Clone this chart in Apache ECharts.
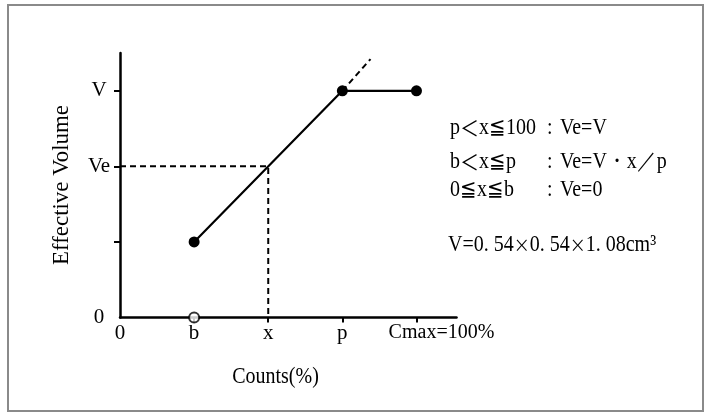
<!DOCTYPE html>
<html>
<head>
<meta charset="utf-8">
<script src="https://cdn.jsdelivr.net/npm/echarts@6/dist/echarts.min.js"></script>
<style>html,body{margin:0;padding:0;background:#fff}#c{width:707px;height:414px}</style>
</head>
<body>
<div id="c"></div>
<script>
// ---- data ----
const xTickValues = [0, 1, 2, 3, 4];
const xTickLabels = ['0', 'b', 'x', 'p', 'Cmax=100%'];
const yTickValues = [1, 2, 3];
const yLabelValues = [0, 2, 3];
const yLabelMap = {0: '0', 2: 'Ve', 3: 'V'};
const effectiveLine = [[1, 1], [3, 3], [4, 3]];
const extensionLine = [[3, 3], [3.38, 3.42]];
const guideLine = [[0, 2], [2, 2], [2, 0]];
const openPoint = [[1, 0]];
const equationsLeft = ['p{m|＜}x≦100', 'b{m|＜}x≦p', '0≦x≦b'];
const equationsRight = ['Ve=V', 'Ve=V・x／p', 'Ve=0'];
const volumeText = 'V=0. 54{s|×}0. 54{s|×}1. 08cm³';
const xName = 'Counts(%)';
const yName = 'Effective Volume';

const FONT = 'Liberation Serif';
const CJK = '"Noto Sans CJK JP"';
const INK = '#000';
const chart = echarts.init(document.getElementById('c'));

const rich = {
  m: {fontFamily: CJK, fontSize: 19, color: INK},
  s: {fontFamily: CJK, fontSize: 16, color: INK}
};
function txt(x, y, text, opts) {
  return Object.assign({type: 'text', x: x, y: y, scaleY: 1.12,
    style: {text: text, font: '20px ' + FONT, fill: INK, align: 'left', verticalAlign: 'middle', rich: rich}}, opts || {});
}
const rowY = [128, 162, 190];
const graphics = [
  {type: 'rect', shape: {x: 8, y: 5, width: 695, height: 406},
   style: {fill: 'none', stroke: '#8a8a8a', lineWidth: 2}, silent: true},
  {type: 'text', x: 275.5, y: 377, scaleY: 1.12, style: {text: xName, font: '20px ' + FONT, fill: INK, align: 'center', verticalAlign: 'middle'}},
  {type: 'text', x: 62, y: 185, rotation: Math.PI / 2, scaleX: 1.04, scaleY: 1.05, style: {text: yName, font: '22px ' + FONT, fill: INK, align: 'center', verticalAlign: 'middle'}},
  txt(448, 245.5, volumeText)
];
equationsLeft.forEach((t, i) => {
  graphics.push(txt(450, rowY[i], t));
  graphics.push(txt(547, rowY[i], ':'));
  graphics.push(txt(560, rowY[i], equationsRight[i]));
});

chart.setOption({
  animation: false,
  backgroundColor: '#fff',
  grid: {left: 120, right: 250.5, top: 53, bottom: 96.5},
  xAxis: {
    type: 'value', min: 0, max: 4.54, interval: 1,
    splitLine: {show: false},
    axisLine: {show: true, lineStyle: {color: INK, width: 2.5}},
    axisTick: {show: true, length: 5, customValues: [1, 2, 3, 4], lineStyle: {color: INK, width: 2}},
    axisLabel: {
      customValues: xTickValues, margin: 5,
      fontFamily: FONT, fontSize: 21, color: INK,
      formatter: v => {
        const i = xTickValues.indexOf(Math.round(v));
        if (i < 0) return '';
        return i === 4 ? '{c|' + xTickLabels[i] + '}' : xTickLabels[i];
      },
      rich: {c: {fontFamily: FONT, fontSize: 20, color: INK, padding: [0, 0, 0, 50]}}
    }
  },
  yAxis: {
    type: 'value', min: 0, max: 3.5, interval: 0.5,
    splitLine: {show: false},
    axisLine: {show: true, lineStyle: {color: INK, width: 2.5}},
    axisTick: {show: true, length: 6, customValues: yTickValues, lineStyle: {color: INK, width: 2}},
    axisLabel: {
      customValues: yLabelValues, margin: 21, align: 'center',
      fontFamily: FONT, fontSize: 21, color: INK,
      formatter: v => yLabelMap[Math.round(v)] || ''
    }
  },
  series: [
    {type: 'line', data: guideLine, symbol: 'none', z: 1,
     lineStyle: {color: INK, width: 2, type: [6, 4]}},
    {type: 'line', data: extensionLine, symbol: 'none', z: 1,
     lineStyle: {color: INK, width: 2, type: [6, 4]}},
    {type: 'line', data: effectiveLine, symbol: 'circle', symbolSize: 11, z: 3,
     itemStyle: {color: INK}, lineStyle: {color: INK, width: 2.2}},
    {type: 'scatter', data: openPoint, symbol: 'circle', symbolSize: 10, z: 4,
     itemStyle: {color: '#fff', borderColor: INK, borderWidth: 2}}
  ],
  graphic: graphics
});
</script>
</body>
</html>
